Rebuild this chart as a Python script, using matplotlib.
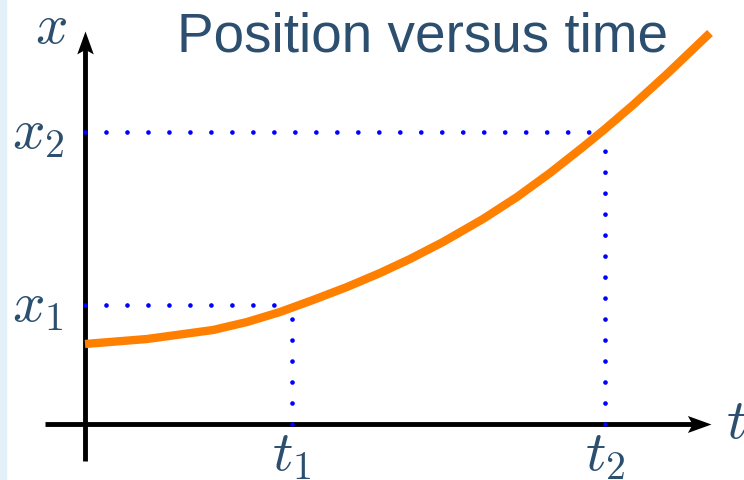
import numpy as np
import matplotlib.pyplot as plt
import matplotlib.patches as patches
from matplotlib.path import Path

plt.rcParams['mathtext.fontset'] = 'cm'
plt.rcParams['lines.scale_dashes'] = False

# position curve (time, position)
t = [0, 0.62, 1.28, 1.62, 1.95, 2.28, 2.62, 2.95, 3.25, 3.58, 3.98, 4.32, 4.65,
     4.98, 5.20, 5.48, 5.82, 6.25]
x = [0.80, 0.85, 0.94, 1.02, 1.12, 1.24, 1.37, 1.51, 1.65, 1.82, 2.05, 2.27, 2.51,
     2.77, 2.95, 3.19, 3.50, 3.91]
t_marks = [2.07, 5.2]
x_marks = [1.19, 2.92]
t_labels = [r'$t_1$', r'$t_2$']
x_labels = [r'$x_1$', r'$x_2$']

ink = '#2c4f70'

fig = plt.figure(figsize=(7.44, 4.81), dpi=100)
ax = fig.add_axes([0, 0, 1, 1])
ax.set_xlim(-0.85, 6.59)
ax.set_ylim(-0.56, 4.25)
ax.axis('off')

# light strip on the left edge
fig.patches.append(patches.Rectangle((0, 0), 6 / 744, 1, transform=fig.transFigure,
                                     color='#e4f0f8', zorder=0))

# axes: lines plus notched arrow heads
head_r = Path([(0, 0), (-1, 0.36), (-0.8, 0), (-1, -0.36), (0, 0)],
              [Path.MOVETO, Path.LINETO, Path.LINETO, Path.LINETO, Path.CLOSEPOLY])
head_u = Path([(0, 0), (-0.36, -1), (0, -0.8), (0.36, -1), (0, 0)],
              [Path.MOVETO, Path.LINETO, Path.LINETO, Path.LINETO, Path.CLOSEPOLY])
ax.plot([-0.4, 6.1], [0, 0], color='black', lw=3.5, solid_capstyle='butt', zorder=1)
ax.plot([0, 0], [-0.37, 3.8], color='black', lw=3.5, solid_capstyle='butt', zorder=1)
ax.plot(6.26, 0, marker=head_r, ms=34, color='black', mew=0, zorder=1)
ax.plot(0, 3.93, marker=head_u, ms=33, color='black', mew=0, zorder=1)

# dotted guide lines
dot = dict(color='blue', lw=3.4, dashes=(0.01, 15.1), dash_capstyle='round', zorder=2)
for tm, xm in zip(t_marks, x_marks):
    ax.plot([0, tm], [xm, xm], **dot)
    ax.plot([tm, tm], [0, xm], **dot)

ax.plot(t, x, color='#ff7f00', lw=6, solid_capstyle='butt', solid_joinstyle='round', zorder=3)

for tm, lab in zip(t_marks, t_labels):
    ax.text(tm, -0.3, lab, fontsize=41, color=ink, ha='center', va='center')
for xm, lab in zip(x_marks, x_labels):
    ax.text(-0.47, xm, lab, fontsize=41, color=ink, ha='center', va='center')
ax.text(6.51, 0.02, r'$t$', fontsize=41, color=ink, ha='center', va='center')
ax.text(-0.34, 3.97, r'$x$', fontsize=41, color=ink, ha='center', va='center')

ax.text(3.38, 3.73, 'Position versus time', fontsize=39.5, color=ink,
        family='Liberation Sans', ha='center', va='baseline')

fig.savefig('out.png', dpi=100)
